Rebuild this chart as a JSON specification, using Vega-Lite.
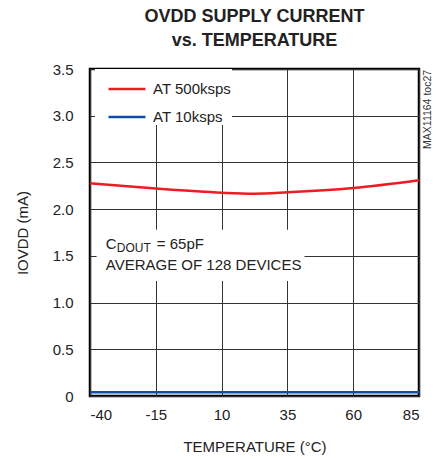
{
  "$schema": "https://vega.github.io/schema/vega-lite/v6.json",
  "autosize": "none",
  "width": 329,
  "height": 327,
  "padding": {"left": 90, "top": 69, "right": 23, "bottom": 63},
  "background": "white",
  "config": {
    "font": "Liberation Sans, Arial, sans-serif",
    "view": {"stroke": "black", "strokeWidth": 2.5},
    "axis": {
      "domain": false, "ticks": false, "grid": true,
      "gridColor": "#333333", "gridWidth": 1, "gridOpacity": 1,
      "labelFont": "Liberation Sans, Arial, sans-serif",
      "titleFont": "Liberation Sans, Arial, sans-serif",
      "labelFontSize": 15, "labelColor": "#222", "titleColor": "#222",
      "titleFontSize": 15, "titleFontWeight": "normal"
    }
  },
  "title": {
    "text": ["OVDD SUPPLY CURRENT", "vs. TEMPERATURE"],
    "font": "Liberation Sans, Arial, sans-serif",
    "fontSize": 18, "fontWeight": "bold", "color": "#222",
    "anchor": "middle", "frame": "group", "offset": 12, "lineHeight": 24
  },
  "datasets": {
    "curves": [
      {"T": -40, "I": 2.277, "series": "AT 500ksps"},
      {"T": -15, "I": 2.22, "series": "AT 500ksps"},
      {"T": 10, "I": 2.176, "series": "AT 500ksps"},
      {"T": 22, "I": 2.166, "series": "AT 500ksps"},
      {"T": 35, "I": 2.18, "series": "AT 500ksps"},
      {"T": 60, "I": 2.226, "series": "AT 500ksps"},
      {"T": 85, "I": 2.31, "series": "AT 500ksps"},
      {"T": -40, "I": 0.04, "series": "AT 10ksps"},
      {"T": 85, "I": 0.04, "series": "AT 10ksps"}
    ],
    "box": [{"x1": -37.5, "x2": 41.5, "y1": 1.23, "y2": 1.78}],
    "notes": [
      {"part": "C", "T": -34, "I": 1.573},
      {"part": "DOUT", "T": -34, "I": 1.573},
      {"part": "= 65pF", "T": -34, "I": 1.573},
      {"part": "AVERAGE OF 128 DEVICES", "T": -34, "I": 1.349}
    ],
    "tag": [{"label": "MAX11164 toc27", "T": 88.6, "I": 3.49}]
  },
  "encoding": {
    "x": {
      "field": "T", "type": "quantitative",
      "scale": {"domain": [-40, 85], "nice": false, "zero": false},
      "axis": {
        "values": [-40, -15, 10, 35, 60, 85],
        "labelExpr": "datum.value < 0 ? '-' + abs(datum.value) : '' + datum.value",
        "title": "TEMPERATURE (°C)", "labelPadding": 11, "titlePadding": 17
      }
    },
    "y": {
      "field": "I", "type": "quantitative",
      "scale": {"domain": [0, 3.5], "nice": false},
      "axis": {
        "values": [0, 0.5, 1, 1.5, 2, 2.5, 3, 3.5],
        "labelExpr": "datum.value == 0 ? '0' : format(datum.value, '.1f')",
        "title": "IOVDD (mA)", "labelPadding": 17, "titlePadding": 22
      }
    }
  },
  "layer": [
    {
      "data": {"name": "box"},
      "mark": {"type": "rect", "fill": "white"},
      "encoding": {
        "x": {"field": "x1", "type": "quantitative"},
        "x2": {"field": "x2"},
        "y": {"field": "y1", "type": "quantitative"},
        "y2": {"field": "y2"}
      }
    },
    {
      "data": {"name": "curves"},
      "mark": {"type": "line", "strokeWidth": 2.5, "interpolate": "monotone"},
      "encoding": {
        "color": {
          "field": "series", "type": "nominal",
          "scale": {"domain": ["AT 500ksps", "AT 10ksps"], "range": ["#ed1c24", "#0d4ea6"]},
          "legend": {
            "title": null, "orient": "none", "legendX": 5, "legendY": 0,
            "fillColor": "white", "padding": 0, "symbolOffset": 12,
            "symbolType": "stroke", "symbolSize": 1369, "symbolStrokeWidth": 2.5,
            "labelFontSize": 15, "labelColor": "#222", "labelOffset": 6, "rowPadding": 0,
            "labelFont": "Liberation Sans, Arial, sans-serif"
          }
        }
      }
    },
    {
      "data": {"name": "notes"},
      "transform": [{"filter": "datum.part == 'C'"}],
      "mark": {"type": "text", "align": "left", "baseline": "alphabetic", "fontSize": 15, "color": "#222"},
      "encoding": {"text": {"field": "part"}}
    },
    {
      "data": {"name": "notes"},
      "transform": [{"filter": "datum.part == 'DOUT'"}],
      "mark": {"type": "text", "align": "left", "baseline": "alphabetic", "fontSize": 12, "dx": 11, "dy": 3, "color": "#222"},
      "encoding": {"text": {"field": "part"}}
    },
    {
      "data": {"name": "notes"},
      "transform": [{"filter": "datum.part == '= 65pF'"}],
      "mark": {"type": "text", "align": "left", "baseline": "alphabetic", "fontSize": 15, "dx": 51, "color": "#222"},
      "encoding": {"text": {"field": "part"}}
    },
    {
      "data": {"name": "notes"},
      "transform": [{"filter": "datum.part == 'AVERAGE OF 128 DEVICES'"}],
      "mark": {"type": "text", "align": "left", "baseline": "alphabetic", "fontSize": 15, "color": "#222"},
      "encoding": {"text": {"field": "part"}}
    },
    {
      "data": {"name": "tag"},
      "mark": {"type": "text", "align": "right", "baseline": "middle", "angle": 270, "fontSize": 10.5, "color": "#333", "clip": false},
      "encoding": {"text": {"field": "label"}}
    }
  ]
}
